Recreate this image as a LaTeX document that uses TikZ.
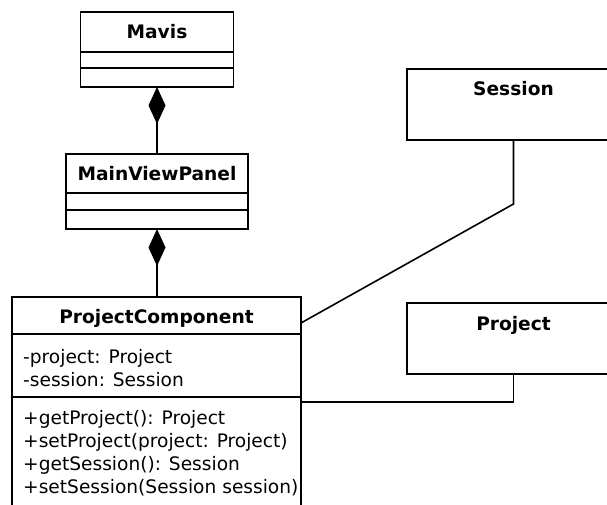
\documentclass[tikz,border=0pt]{standalone}
\usepackage{fontspec}
\setmainfont{DejaVu Sans}
\usetikzlibrary{arrows.meta}
\tikzset{
  cls/.style={draw, line width=1.6pt, inner sep=0pt, outer sep=0pt, fill=white},
  div/.style={line width=1.6pt},
  conn/.style={line width=1.6pt},
  comp/.style={line width=1.6pt, {Diamond[length=37pt,width=17pt]}-},
  title/.style={inner sep=0pt, font=\bfseries\fontsize{18.6}{22}\selectfont, anchor=base},
  member/.style={inner sep=0pt, font=\fontsize{18.6}{22}\selectfont, anchor=base west},
}
\begin{document}
\begin{tikzpicture}[x=1pt,y=-1pt]
\useasboundingbox (0,0) rectangle (607,505);
\clip (0,0) rectangle (607,505);
\fill[white] (0,0) rectangle (607,505);

% Mavis
\node[cls, minimum width=153pt, minimum height=75pt] (mavis) at (157,49.5) {};
\node[title] (mavisT) at (157,39) {Mavis};
\draw[div] (mavis.west |- 0,52) -- (mavis.east |- 0,52);
\draw[div] (mavis.west |- 0,68) -- (mavis.east |- 0,68);

% MainViewPanel
\node[cls, minimum width=182pt, minimum height=75pt] (mvp) at (157,191.5) {};
\node[title] (mvpT) at (157,181) {MainViewPanel};
\draw[div] (mvp.west |- 0,193) -- (mvp.east |- 0,193);
\draw[div] (mvp.west |- 0,210) -- (mvp.east |- 0,210);

% ProjectComponent
\node[cls, minimum width=289pt, minimum height=233pt] (pc) at (156.5,413.5) {};
\node[title] (pcT) at (156.5,323) {ProjectComponent};
\draw[div] (pc.west |- 0,334) -- (pc.east |- 0,334);
\draw[div] (pc.west |- 0,397) -- (pc.east |- 0,397);
\node[member] (a1) at (23,363) {-project: Project};
\node[member] (a2) at (23,386) {-session: Session};
\node[member] (m1) at (23,424) {+getProject(): Project};
\node[member] (m2) at (23,447) {+setProject(project: Project)};
\node[member] (m3) at (23,470) {+getSession(): Session};
\node[member] (m4) at (23,493) {+setSession(Session session)};

% Session
\node[cls, minimum width=213pt, minimum height=71pt] (session) at (513.5,104.5) {};
\node[title] (sessionT) at (513.5,96) {Session};

% Project
\node[cls, minimum width=213pt, minimum height=71pt] (project) at (513.5,338.5) {};
\node[title] (projectT) at (513.5,330) {Project};

% Connectors
\draw[comp] (mavis.south) -- (mvp.north);
\draw[comp] (mvp.south) -- (mvp.south |- pc.north);
\coordinate (sbend) at (513.5,204);
\draw[conn] (session.south) -- (sbend) -- (pc.east |- 0,323);
\coordinate (pbend) at (513.5,402);
\draw[conn] (project.south) -- (pbend) -- (pc.east |- pbend);
\end{tikzpicture}
\end{document}
